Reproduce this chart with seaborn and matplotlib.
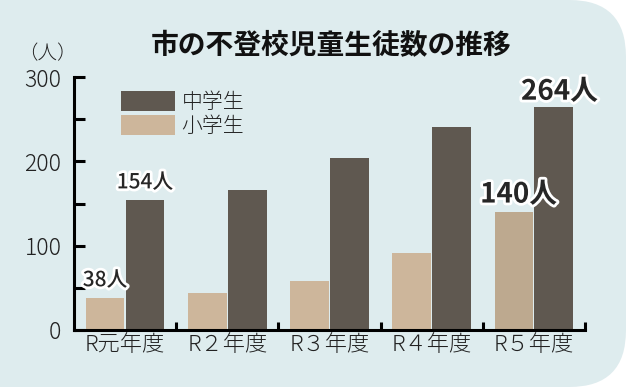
import matplotlib
matplotlib.use('Agg')
import pandas as pd
import matplotlib.pyplot as plt
import matplotlib.patheffects as pe
from matplotlib.patches import FancyBboxPatch, Patch
from matplotlib.ticker import MultipleLocator, FixedLocator
import seaborn as sns

# datos
nendo = ['R元年度', 'R２年度', 'R３年度', 'R４年度', 'R５年度']
shogakusei = [38, 44, 58, 91, 140]
chugakusei = [154, 166, 204, 241, 264]
etiquetas = ['小学生', '中学生']

df = pd.DataFrame({
    'nendo': nendo * 2,
    'ninzu': shogakusei + chugakusei,
    'kubun': [etiquetas[0]] * 5 + [etiquetas[1]] * 5,
})

sns.set_style('ticks')
plt.rcParams['font.family'] = ['Noto Sans CJK JP', 'DejaVu Sans']

c_tan = '#cdb69b'
c_dark = '#5f5850'
c_bg = '#deecee'

fig = plt.figure(figsize=(6.29, 3.87), dpi=100, facecolor='white')

# fondo redondeado
fondo = FancyBboxPatch((-0.1, 0.0), 1.0952, 1.0, boxstyle='round,pad=0,rounding_size=0.09',
                       transform=fig.transFigure, facecolor=c_bg, edgecolor='none',
                       mutation_aspect=629 / 387, zorder=-10)
fig.patches.append(fondo)

ax = fig.add_axes([0.1176, 0.1473, 0.8124, 0.6537])
ax.set_facecolor('none')
ax.set_zorder(5)

sns.barplot(data=df, x='nendo', y='ninzu', hue='kubun', hue_order=etiquetas,
            palette=[c_tan, c_dark], width=0.78, gap=0.03, saturation=1,
            edgecolor='none', legend=False, ax=ax)

# R5 小学生 un poco mas oscuro
ax.patches[4].set_facecolor('#bda98f')

ax.set_xlim(-0.5, 4.5)
ax.set_ylim(0, 300)
ax.set_xlabel('')
ax.set_ylabel('')

sns.despine(ax=ax)
for s in ['left', 'bottom']:
    ax.spines[s].set_linewidth(2.2)
    ax.spines[s].set_color('black')

ax.yaxis.set_major_locator(MultipleLocator(100))
ax.yaxis.set_minor_locator(MultipleLocator(50))
ax.tick_params(axis='y', which='both', direction='in', length=8, width=2.2,
               color='black', pad=9, labelsize=16.5, labelcolor='#222222')
ax.xaxis.set_minor_locator(FixedLocator([0.5, 1.5, 2.5, 3.5, 4.5]))
ax.tick_params(axis='x', which='minor', direction='in', length=6, width=2.2, color='black')
ax.tick_params(axis='x', which='major', length=0, pad=3, labelsize=16, labelcolor='#222222')
for lab in ax.get_xticklabels() + ax.get_yticklabels():
    lab.set_fontweight('light')

# leyenda
handles = [Patch(facecolor=c_dark, edgecolor='none'), Patch(facecolor=c_tan, edgecolor='none')]
leg = ax.legend(handles, ['中学生', '小学生'], loc='upper left', bbox_to_anchor=(0.092, 0.945),
                frameon=False, fontsize=15, handlelength=2.6, handleheight=1.1,
                handletextpad=0.3, labelspacing=0.1, borderpad=0, borderaxespad=0)
for t in leg.get_texts():
    t.set_fontweight('light')
    t.set_color('#222222')

# etiquetas de valores
borde = [pe.withStroke(linewidth=4, foreground='white')]
ax.text(-0.195, shogakusei[0] + 8, f'{shogakusei[0]}人', ha='center', va='bottom',
        fontsize=15, fontweight='medium', path_effects=borde)
ax.text(0.195, chugakusei[0] + 8, f'{chugakusei[0]}人', ha='center', va='bottom',
        fontsize=15, fontweight='medium', path_effects=borde)
ax.text(4 - 0.15, shogakusei[4] + 4, f'{shogakusei[4]}人', ha='center', va='bottom',
        fontsize=20, fontweight='bold', path_effects=borde)
ax.text(4 + 0.25, chugakusei[4] + 2, f'{chugakusei[4]}人', ha='center', va='bottom',
        fontsize=20, fontweight='bold', path_effects=borde)

fig.text(0.527, 0.881, '市の不登校児童生徒数の推移', ha='center', va='center',
         fontsize=20, fontweight='bold', color='#111111')
fig.text(0.075, 0.86, '（人）', ha='center', va='center', fontsize=14,
         fontweight='light', color='#222222')

fig.savefig('out.png', dpi=100, facecolor='white')
